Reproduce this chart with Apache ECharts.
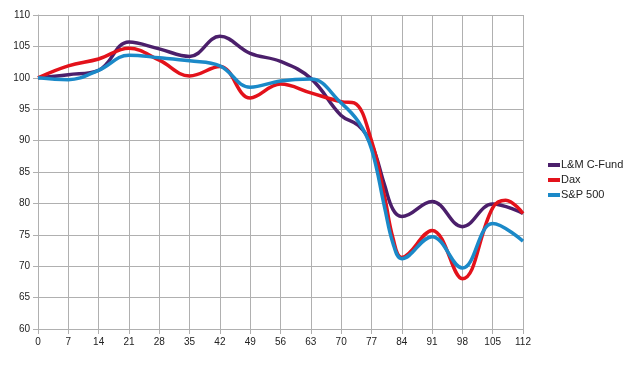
<!DOCTYPE html>
<html>
<head>
<meta charset="utf-8">
<script src="https://cdn.jsdelivr.net/npm/echarts@6/dist/echarts.min.js"></script>
<style>html,body{margin:0;padding:0;background:#fff}#c{width:641px;height:367px}</style>
</head>
<body>
<div id="c"></div>
<script>
const seriesNames = ["L&M C-Fund", "Dax", "S&P 500"];
const fundDays = [0,7,14,21,28,35,42,49,56,63,70,74,77,80,82,84,91,98,105,112];
const fundValues = [100,100.5,101.2,105.7,104.6,103.4,106.6,103.9,102.6,99.9,94.0,92.4,89.5,83.0,79.0,77.9,80.3,76.3,79.9,78.4];
const daxDays = [0,7,14,21,28,35,42,49,56,63,70,73,77,80,82,84,91,98,105,108,112];
const daxValues = [100,101.9,103.0,104.7,102.8,100.3,101.8,96.8,99.0,97.6,96.2,96.0,90.0,81.2,74.4,71.4,75.7,68.0,79.3,80.5,78.4];
const spDays = [0,7,14,21,28,35,42,49,56,63,70,74,77,80,82,84,91,98,105,112];
const spValues = [100,99.7,101.2,103.6,103.2,102.7,101.9,98.5,99.5,99.8,96.0,93.0,88.7,79.5,73.6,71.2,74.7,69.7,76.8,74.0];
const xTicks = {min:0, max:112, step:7};
const yTicks = {min:60, max:110, step:5};
const colors = ["#4B1F6B", "#E3121B", "#1B89C8"];

function pairs(d, v){ return d.map((x,i)=>[x, v[i]]); }
const chart = echarts.init(document.getElementById('c'), null, {renderer:'canvas'});
const gray = '#b0b0b0';
const font = 'Liberation Sans, Arial, sans-serif';
chart.setOption({
  animation:false,
  color: colors,
  grid:{left:38, right:118, top:15, bottom:38, containLabel:false},
  legend:{
    orient:'vertical', left:543, top:154,
    icon:'rect', itemWidth:12, itemHeight:4, itemGap:3,
    textStyle:{fontFamily:font, fontSize:11, color:'#222', lineHeight:12, padding:[0,0,0,-4]},
    data: seriesNames
  },
  xAxis:{
    type:'value', min:xTicks.min, max:xTicks.max, interval:xTicks.step,
    axisLine:{lineStyle:{color:gray}},
    axisTick:{show:true, length:5, lineStyle:{color:gray}},
    axisLabel:{fontFamily:font, fontSize:10, color:'#222', margin:8},
    splitLine:{show:true, lineStyle:{color:gray}}
  },
  yAxis:{
    type:'value', min:yTicks.min, max:yTicks.max, interval:yTicks.step,
    axisLine:{show:true, lineStyle:{color:gray}},
    axisTick:{show:true, length:5, lineStyle:{color:gray}},
    axisLabel:{fontFamily:font, fontSize:10, color:'#222', margin:8},
    splitLine:{show:true, lineStyle:{color:gray}}
  },
  series:[
    {name:seriesNames[0], type:'line', smooth:0.4, showSymbol:false, data:pairs(fundDays,fundValues), lineStyle:{width:3.5}},
    {name:seriesNames[1], type:'line', smooth:0.4, showSymbol:false, data:pairs(daxDays,daxValues), lineStyle:{width:3.5}},
    {name:seriesNames[2], type:'line', smooth:0.4, showSymbol:false, data:pairs(spDays,spValues), lineStyle:{width:3.5}}
  ]
});
</script>
</body>
</html>
